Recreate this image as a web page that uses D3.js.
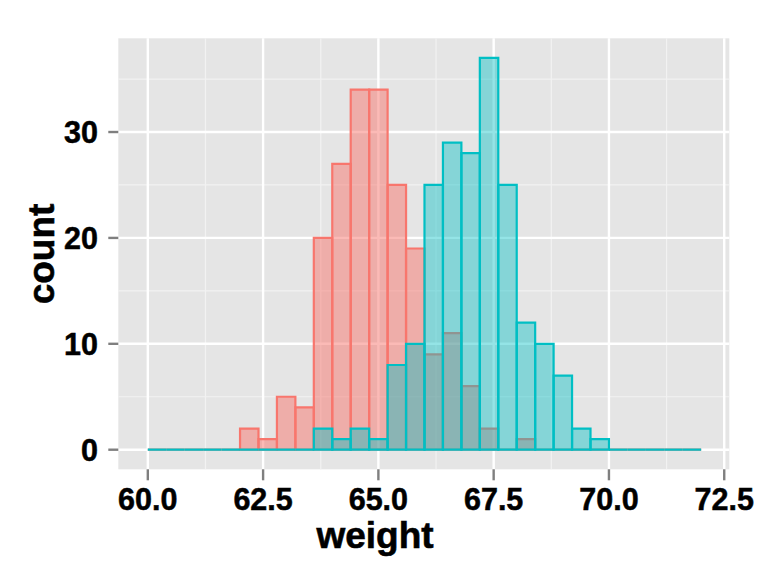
<!DOCTYPE html>
<html>
<head>
<meta charset="utf-8">
<script src="https://cdn.jsdelivr.net/npm/d3@7"></script>
<style>
  body { margin: 0; background: #fff; }
  text { font-family: "Liberation Sans", Arial, sans-serif; font-weight: bold; fill: #000; stroke: #000; }
</style>
</head>
<body>
<svg width="768" height="576"></svg>
<script>
// histogram bins: 30 bins of width 0.4 from 60 to 72
const binStart = 60, binWidth = 0.4;
const femaleCounts = [0,0,0,0,0, 2,1,5,4,20, 27,34,34,25,19, 9,11,6,2,0, 1,0,0,0,0, 0,0,0,0,0];
const maleCounts   = [0,0,0,0,0, 0,0,0,0,2, 1,2,1,8,10, 25,29,28,37,25, 12,10,7,2,1, 0,0,0,0,0];
const xTicks = [60, 62.5, 65, 67.5, 70, 72.5];
const xMinor = [61.25, 63.75, 66.25, 68.75, 71.25];
const yTicks = [0, 10, 20, 30];
const yMinor = [5, 15, 25, 35];

let svg = d3.select("svg");

let x = d3.scaleLinear().domain([59.36, 72.61]).range([118.3, 729.3]);
let y = d3.scaleLinear().domain([-1.85, 38.85]).range([469.3, 38.3]);

let gpanel = svg.append("g").attr('class','panel');
let gbars = svg.append("g").attr('class','bars');
let gaxis = svg.append("g").attr('class','axis');

gpanel.append("rect")
	.attr("x", x.range()[0])
	.attr("y", y.range()[1])
	.attr("width", x.range()[1] - x.range()[0])
	.attr("height", y.range()[0] - y.range()[1])
	.attr("fill", "#e5e5e5");

// minor grid
gpanel.selectAll("line.xminor").data(xMinor).enter().append("line")
	.attr("x1", d => x(d)).attr("x2", d => x(d))
	.attr("y1", y.range()[0]).attr("y2", y.range()[1])
	.attr("stroke", "#f2f2f2").attr("stroke-width", 1.2);
gpanel.selectAll("line.yminor").data(yMinor).enter().append("line")
	.attr("y1", d => y(d)).attr("y2", d => y(d))
	.attr("x1", x.range()[0]).attr("x2", x.range()[1])
	.attr("stroke", "#f2f2f2").attr("stroke-width", 1.2);
// major grid
gpanel.selectAll("line.xmajor").data(xTicks).enter().append("line")
	.attr("x1", d => x(d)).attr("x2", d => x(d))
	.attr("y1", y.range()[0]).attr("y2", y.range()[1])
	.attr("stroke", "#ffffff").attr("stroke-width", 2.4);
gpanel.selectAll("line.ymajor").data(yTicks).enter().append("line")
	.attr("y1", d => y(d)).attr("y2", d => y(d))
	.attr("x1", x.range()[0]).attr("x2", x.range()[1])
	.attr("stroke", "#ffffff").attr("stroke-width", 2.4);

// bars as closed paths so empty bins still show as a flat line
let barPath = (d, i) => {
	let x0 = x(binStart + i * binWidth), x1 = x(binStart + (i + 1) * binWidth);
	return "M" + x0 + "," + y(0) + "V" + y(d) + "H" + x1 + "V" + y(0) + "Z";
};
let drawBars = (counts, color, alpha) => {
	gbars.append("g").selectAll("path")
		.data(counts)
	  .enter().append("path")
		.attr("d", barPath)
		.attr("fill", color)
		.attr("fill-opacity", alpha)
		.attr("stroke", color)
		.attr("stroke-width", 2.2)
		.attr("stroke-linejoin", "miter");
};
drawBars(femaleCounts, "#F8766D", 0.5);
drawBars(maleCounts, "#00BFC4", 0.42);

// ticks
gaxis.selectAll("line.yt").data(yTicks).enter().append("line")
	.attr("x1", 108.3).attr("x2", 118.3)
	.attr("y1", d => y(d)).attr("y2", d => y(d))
	.attr("stroke", "#7f7f7f").attr("stroke-width", 2.4);
gaxis.selectAll("line.xt").data(xTicks).enter().append("line")
	.attr("x1", d => x(d)).attr("x2", d => x(d))
	.attr("y1", 469.3).attr("y2", 480.3)
	.attr("stroke", "#7f7f7f").attr("stroke-width", 2.4);

gaxis.selectAll("text.yl").data(yTicks).enter().append("text")
	.attr("x", 98).attr("y", d => y(d) + 11)
	.attr("text-anchor", "end")
	.attr("font-size", 30.5)
	.attr("stroke-width", 0.5)
	.text(d => d3.format("d")(d));
gaxis.selectAll("text.xl").data(xTicks).enter().append("text")
	.attr("x", d => x(d)).attr("y", 510)
	.attr("text-anchor", "middle")
	.attr("font-size", 30.5)
	.attr("stroke-width", 0.5)
	.text(d => d3.format(".1f")(d));

svg.append("text")
	.attr("x", 375).attr("y", 548)
	.attr("text-anchor", "middle")
	.attr("font-size", 37)
	.attr("stroke-width", 0.6)
	.text("weight");
svg.append("text")
	.attr("transform", "translate(53.5,254) rotate(-90)")
	.attr("text-anchor", "middle")
	.attr("font-size", 37)
	.attr("stroke-width", 0.6)
	.text("count");
</script>
</body>
</html>
